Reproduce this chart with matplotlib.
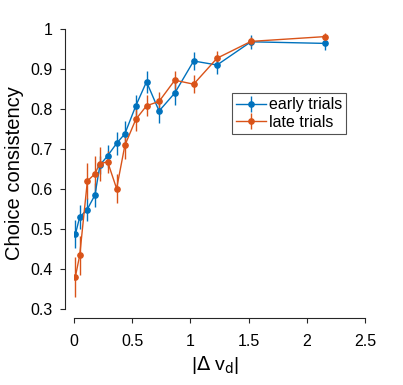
import matplotlib
matplotlib.use("Agg")
import matplotlib.pyplot as plt

plt.rcParams['font.family'] = ['Liberation Sans', 'DejaVu Sans']

x_early = [0.012, 0.049, 0.112, 0.180, 0.223, 0.289, 0.366, 0.437, 0.531, 0.623, 0.731, 0.866, 1.028, 1.229, 1.520, 2.157]
y_early = [0.487, 0.530, 0.548, 0.585, 0.660, 0.683, 0.714, 0.738, 0.808, 0.868, 0.795, 0.840, 0.920, 0.910, 0.968, 0.964]
e_early = [0.035, 0.031, 0.029, 0.029, 0.022, 0.028, 0.029, 0.031, 0.028, 0.027, 0.030, 0.029, 0.023, 0.023, 0.017, 0.017]

x_late = [0.012, 0.049, 0.115, 0.180, 0.220, 0.289, 0.366, 0.437, 0.531, 0.623, 0.731, 0.866, 1.028, 1.229, 1.520, 2.157]
y_late = [0.381, 0.434, 0.620, 0.638, 0.663, 0.668, 0.601, 0.709, 0.774, 0.808, 0.819, 0.872, 0.862, 0.927, 0.969, 0.981]
e_late = [0.050, 0.048, 0.046, 0.044, 0.042, 0.027, 0.037, 0.033, 0.029, 0.026, 0.023, 0.023, 0.022, 0.017, 0.012, 0.008]

labels = ['early trials', 'late trials']
colors = ['#0072BD', '#D95319']

fig = plt.figure(figsize=(4.03, 3.85), dpi=100)
ax = fig.add_axes([74/403, 1 - 309/385, 291/403, 280/385])

ax.errorbar(x_early, y_early, yerr=e_early, color=colors[0], marker='o', ms=3.8,
            lw=1.0, elinewidth=1.0, capsize=0, label=labels[0])
ax.errorbar(x_late, y_late, yerr=e_late, color=colors[1], marker='o', ms=3.8,
            lw=1.0, elinewidth=1.0, capsize=0, label=labels[1])

ax.set_xlim(0, 2.5)
ax.set_ylim(0.3, 1.0)
ax.set_xticks([0, 0.5, 1, 1.5, 2, 2.5])
ax.set_xticklabels(['0', '0.5', '1', '1.5', '2', '2.5'])
ax.set_yticks([0.3, 0.4, 0.5, 0.6, 0.7, 0.8, 0.9, 1.0])
ax.set_yticklabels(['0.3', '0.4', '0.5', '0.6', '0.7', '0.8', '0.9', '1'])

for s in ['top', 'right']:
    ax.spines[s].set_visible(False)
for s in ['left', 'bottom']:
    ax.spines[s].set_position(('outward', 6.5))
    ax.spines[s].set_color('#262626')
    ax.spines[s].set_linewidth(0.8)
ax.tick_params(direction='out', length=3.6, width=0.8, colors='#262626',
               labelsize=11.5, labelcolor='black')
ax.tick_params(axis='y', pad=5)
ax.tick_params(axis='x', pad=8)

ax.set_xlabel(r'|$\Delta$ v$_\mathrm{d}$|', fontsize=14)
ax.xaxis.set_label_coords((215 - 74) / 291, (309 - 354) / 280)
ax.set_ylabel('Choice consistency', fontsize=14.5)
ax.yaxis.set_label_coords((24 - 74) / 291, (309 - 173) / 280)

leg = ax.legend(loc='upper left', bbox_to_anchor=((231.7 - 74) / 291, 1 - (93.3 - 29) / 280),
                fontsize=11.5, frameon=True, fancybox=False, handlelength=1.9,
                handletextpad=0.2, borderpad=0.25, labelspacing=0.15, borderaxespad=0)
leg.get_frame().set_edgecolor('#262626')
leg.get_frame().set_linewidth(0.8)

fig.savefig('out.png', dpi=100)
